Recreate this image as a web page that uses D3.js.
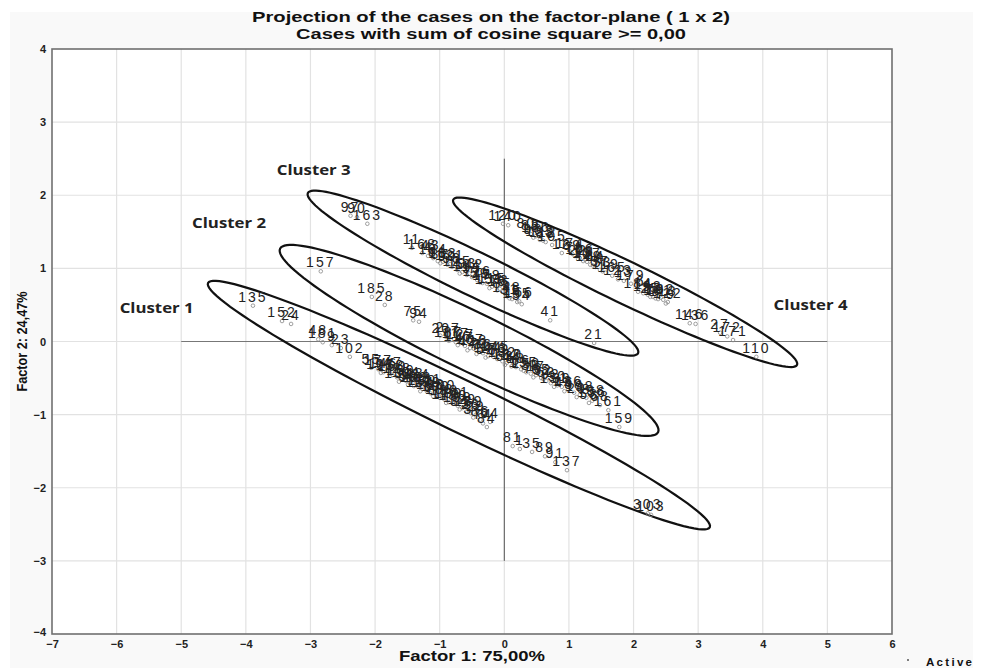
<!DOCTYPE html>
<html><head><meta charset="utf-8">
<script src="https://cdn.jsdelivr.net/npm/d3@7"></script>
<style>body{margin:0;background:#fff}svg{display:block}</style>
</head><body>
<svg id="c" width="981" height="668"></svg>
<script>
const titleLines = ["Projection of the cases on the factor-plane ( 1 x  2)", "Cases with sum of cosine square >= 0,00"];
const xAxisTitle = "Factor 1: 75,00%";
const yAxisTitle = "Factor 2: 24,47%";
const xTicks = [-7,-6,-5,-4,-3,-2,-1,0,1,2,3,4,5,6];
const yTicks = [-4,-3,-2,-1,0,1,2,3,4];
const legendLabel = "Active";

// cluster 1 cases
const c1Ids = ["135","152","24","48","181","9","23","102","55","177","146","147","160","128","169","104","143","188","109","180","190","138","100","108","196","189","130","199","129","3","26","29","86","84","81","1","35","89","91","137","303","103",
  "197","158","131","50","134","154","111","67","200","170","141","34","139","37","74","64"];
const c1X = [-3.89,-3.44,-3.30,-2.88,-2.81,-2.67,-2.53,-2.39,-2.06,-1.95,-1.87,-1.80,-1.73,-1.66,-1.60,-1.52,-1.46,-1.40,-1.34,-1.27,-1.20,-1.14,-1.06,-1.00,-0.93,-0.86,-0.79,-0.72,-0.65,-0.59,-0.52,-0.44,-0.37,-0.27,0.13,0.24,0.43,0.63,0.79,0.97,2.22,2.27,
  -1.91,-1.76,-1.63,-1.49,-1.37,-1.30,-1.17,-1.10,-0.97,-0.90,-0.76,-0.69,-0.55,-0.48,-0.33,-0.22];
const c1Y = [0.49,0.28,0.24,0.03,-0.01,-0.05,-0.09,-0.21,-0.36,-0.38,-0.42,-0.40,-0.46,-0.49,-0.51,-0.54,-0.56,-0.61,-0.61,-0.65,-0.68,-0.71,-0.73,-0.77,-0.79,-0.83,-0.85,-0.88,-0.91,-0.96,-0.98,-1.00,-1.07,-1.17,-1.43,-1.47,-1.51,-1.57,-1.65,-1.76,-2.35,-2.37,
  -0.43,-0.44,-0.55,-0.59,-0.57,-0.68,-0.64,-0.75,-0.72,-0.84,-0.81,-0.93,-0.93,-1.04,-1.12,-1.10];

// cluster 2 cases
const c2Ids = ["157","185","28","75","94","2","207","77","117","127","47","167","118","72","36","144","173","60","132","182","44","18","66","150","33","17","65","62","92","30","39","126","38","198","8","156","68","161","159",
  "187","116","42","7","52","145","63","10","195","76","32","151","46","20","58","98"];
const c2X = [-2.84,-2.05,-1.85,-1.41,-1.32,-0.99,-0.90,-0.83,-0.75,-0.68,-0.61,-0.53,-0.47,-0.39,-0.33,-0.25,-0.17,-0.11,-0.03,0.04,0.11,0.18,0.26,0.34,0.41,0.49,0.57,0.65,0.72,0.82,0.89,0.99,1.08,1.17,1.27,1.36,1.48,1.61,1.78,
  -0.86,-0.72,-0.57,-0.43,-0.29,-0.14,0.01,0.14,0.30,0.45,0.60,0.77,0.93,1.12,1.31,1.42];
const c2Y = [0.96,0.61,0.50,0.29,0.27,0.08,0.06,0.02,-0.01,-0.02,-0.06,-0.09,-0.10,-0.14,-0.16,-0.20,-0.21,-0.24,-0.27,-0.29,-0.34,-0.35,-0.38,-0.42,-0.44,-0.46,-0.50,-0.54,-0.57,-0.60,-0.62,-0.66,-0.70,-0.73,-0.77,-0.81,-0.87,-0.94,-1.17,
  0.01,-0.05,-0.12,-0.17,-0.22,-0.18,-0.32,-0.30,-0.40,-0.49,-0.51,-0.62,-0.68,-0.76,-0.84,-0.78];

// cluster 3 cases
const c3Ids = ["97","90","163","11","168","4","194","61","183","99","93","125","193","114","95","176","45","178","115","16","85","148","15","155","54","41","21",
  "43","87","121","5","142","59","153","73","31","166"];
const c3X = [-2.38,-2.28,-2.12,-1.43,-1.27,-1.18,-1.10,-1.03,-0.95,-0.88,-0.81,-0.73,-0.65,-0.58,-0.50,-0.42,-0.34,-0.27,-0.19,-0.11,-0.03,0.04,0.12,0.20,0.27,0.71,1.39,
  -1.14,-0.99,-0.84,-0.69,-0.54,-0.38,-0.23,-0.07,0.08,0.23];
const c3Y = [1.72,1.70,1.61,1.28,1.21,1.17,1.14,1.10,1.09,1.05,1.02,0.98,0.95,0.91,0.88,0.84,0.80,0.79,0.75,0.70,0.68,0.62,0.58,0.54,0.51,0.29,-0.02,
  1.19,1.07,1.06,0.93,0.93,0.81,0.73,0.72,0.59,0.55];

// cluster 4 cases
const c4Ids = ["120","140","80","83","186","133","88","105","12","174","71","106","19","107","164","40","57","119","165","123","13","179","184","14","192","82","101","113","122","146","136","27","172","171","110",
  "96","112","69","22","78","49","53","6","25","79","162","70"];
const c4X = [-0.02,0.06,0.34,0.41,0.49,0.55,0.64,0.74,0.89,1.02,1.09,1.17,1.22,1.28,1.33,1.41,1.48,1.57,1.67,1.76,1.85,1.96,2.07,2.15,2.22,2.30,2.38,2.46,2.53,2.87,2.96,3.34,3.45,3.54,3.90,
  0.45,0.60,1.05,1.14,1.25,1.37,1.52,2.11,2.26,2.34,2.42,2.50];
const c4Y = [1.61,1.59,1.50,1.47,1.44,1.39,1.36,1.32,1.21,1.23,1.17,1.14,1.10,1.09,1.05,1.02,0.98,0.94,0.90,0.85,0.83,0.79,0.68,0.66,0.64,0.61,0.58,0.57,0.54,0.25,0.24,0.12,0.07,0.02,-0.21,
  1.42,1.38,1.20,1.13,1.12,1.04,0.96,0.70,0.61,0.59,0.60,0.52];

// cluster ellipses: major-axis end points (factor units) and minor/major ratio
const clusterNames = ["Cluster 1","Cluster 2","Cluster 3","Cluster 4"];
const ellipseX1 = [-4.585,-3.47,-3.04,-0.79];
const ellipseY1 = [0.80,1.27,2.03,1.94];
const ellipseX2 = [3.18,2.38,2.07,4.53];
const ellipseY2 = [-2.54,-1.24,-0.16,-0.32];
const ellipseRatio = [0.092,0.14,0.12,0.11];
const clusterLabelX = [-5.38,-4.26,-2.95,4.74];
const clusterLabelY = [0.39,1.55,2.28,0.43];

// reference cross lines
const crossH = [-5,5];   // y = 0 segment
const crossV = [-3,2.5]; // x = 0 segment

const svg = d3.select("#c");
const m = {l:52, r:892, t:49, b:634};
const x = d3.scaleLinear().domain([-7,6]).range([m.l,m.r]);
const y = d3.scaleLinear().domain([-4,4]).range([m.b,m.t]);

svg.append("rect").attr("x",10).attr("y",12).attr("width",963).attr("height",656).attr("fill","#f9f9f9");
svg.append("rect").attr("x",m.l).attr("y",m.t).attr("width",m.r-m.l).attr("height",m.b-m.t).attr("fill","#fff");

// grid
svg.append("g").selectAll("line").data(xTicks.slice(1,-1)).join("line")
  .attr("x1",d=>x(d)).attr("x2",d=>x(d)).attr("y1",m.t).attr("y2",m.b)
  .attr("stroke","#e2e2e2").attr("stroke-width",1.2);
svg.append("g").selectAll("line").data(yTicks.slice(1,-1)).join("line")
  .attr("y1",d=>y(d)).attr("y2",d=>y(d)).attr("x1",m.l).attr("x2",m.r)
  .attr("stroke","#e2e2e2").attr("stroke-width",1.2);

// cross lines
svg.append("line").attr("x1",x(crossH[0])).attr("x2",x(crossH[1])).attr("y1",y(0)).attr("y2",y(0)).attr("stroke","#777").attr("stroke-width",1);
svg.append("line").attr("x1",x(0)).attr("x2",x(0)).attr("y1",y(crossV[0])).attr("y2",y(crossV[1])).attr("stroke","#555").attr("stroke-width",1);

// axes
const xAxis = d3.axisBottom(x).tickValues(xTicks).tickSize(0).tickPadding(6).tickFormat(d3.format("d"));
const gx = svg.append("g").attr("transform",`translate(0,${m.b})`).call(xAxis);
gx.select(".domain").remove();
gx.selectAll("text").attr("font-family","Liberation Sans, Arial").attr("font-weight","bold").attr("font-size",11).attr("fill","#222");
const yAxis = d3.axisLeft(y).tickValues(yTicks).tickSize(0).tickPadding(6).tickFormat(d3.format("d"));
const gy = svg.append("g").attr("transform",`translate(${m.l},0)`).call(yAxis);
gy.select(".domain").remove();
gy.selectAll("text").attr("font-family","Liberation Sans, Arial").attr("font-weight","bold").attr("font-size",11).attr("fill","#222");
gy.selectAll(".tick").filter(d=>d===-4).select("text").attr("dy","0.1em");

// frame
svg.append("rect").attr("x",m.l).attr("y",m.t).attr("width",m.r-m.l).attr("height",m.b-m.t)
  .attr("fill","none").attr("stroke","#707070").attr("stroke-width",1.6);

// ellipses
const ell = svg.append("g");
clusterNames.forEach((n,i)=>{
  const p1=[x(ellipseX1[i]),y(ellipseY1[i])], p2=[x(ellipseX2[i]),y(ellipseY2[i])];
  const cx=(p1[0]+p2[0])/2, cy=(p1[1]+p2[1])/2;
  const ax=(p2[0]-p1[0])/2, ay=(p2[1]-p1[1])/2;
  const L=Math.hypot(ax,ay), b=L*ellipseRatio[i];
  const bx=-ay/L*b, by=ax/L*b;
  const pts=d3.range(0,361,3).map(t=>{const r=t*Math.PI/180;return [cx+Math.cos(r)*ax+Math.sin(r)*bx, cy+Math.cos(r)*ay+Math.sin(r)*by];});
  ell.append("path").attr("d",d3.line().curve(d3.curveLinearClosed)(pts)).attr("fill","none").attr("stroke","#111").attr("stroke-width",2.2);
  svg.append("text").attr("x",x(clusterLabelX[i])).attr("y",y(clusterLabelY[i])).attr("text-anchor","middle")
    .attr("font-family","Open Sans, sans-serif").attr("font-weight","bold").attr("font-size",14).attr("fill","#222")
    .attr("textLength",74).attr("lengthAdjust","spacingAndGlyphs").text(n);
});

// points
const clusters = [[c1Ids,c1X,c1Y],[c2Ids,c2X,c2Y],[c3Ids,c3X,c3Y],[c4Ids,c4X,c4Y]];
const pts = [];
clusters.forEach(([ids,xs,ys])=>ids.forEach((id,j)=>pts.push({id,x:xs[j],y:ys[j]})));
const pg = svg.append("g");
pg.selectAll("circle").data(pts).join("circle").attr("cx",d=>x(d.x)).attr("cy",d=>y(d.y)).attr("r",1.8)
  .attr("fill","none").attr("stroke","#888").attr("stroke-width",0.8);
pg.selectAll("text").data(pts).join("text").attr("x",d=>x(d.x)).attr("y",d=>y(d.y)-4).attr("text-anchor","middle")
  .attr("font-family","Liberation Sans, Arial").attr("font-size",14).attr("letter-spacing","2px").attr("fill","#222").text(d=>d.id);

// titles
titleLines.forEach((t,i)=>{
  svg.append("text").attr("x",491).attr("y",[22,39][i]).attr("text-anchor","middle")
    .attr("font-family","Liberation Sans, Arial").attr("font-weight","bold").attr("font-size",14.5).attr("fill","#111")
    .attr("textLength",[478,390][i]).attr("lengthAdjust","spacingAndGlyphs").text(t);
});
svg.append("text").attr("x",(m.l+m.r)/2).attr("y",661).attr("text-anchor","middle")
  .attr("font-family","Liberation Sans, Arial").attr("font-weight","bold").attr("font-size",14).attr("fill","#111")
  .attr("textLength",146).attr("lengthAdjust","spacingAndGlyphs").text(xAxisTitle);
svg.append("text").attr("transform",`translate(27,${(m.t+m.b)/2}) rotate(-90)`).attr("text-anchor","middle")
  .attr("font-family","Liberation Sans, Arial").attr("font-weight","bold").attr("font-size",14).attr("fill","#111")
  .attr("textLength",100).attr("lengthAdjust","spacingAndGlyphs").text(yAxisTitle);

// legend
svg.append("circle").attr("cx",908).attr("cy",660).attr("r",1).attr("fill","#555");
svg.append("text").attr("x",926).attr("y",666)
  .attr("font-family","Liberation Sans, Arial").attr("font-weight","bold").attr("font-size",11.5).attr("fill","#111")
  .attr("textLength",46).attr("lengthAdjust","spacing").text(legendLabel);
</script>
</body></html>
